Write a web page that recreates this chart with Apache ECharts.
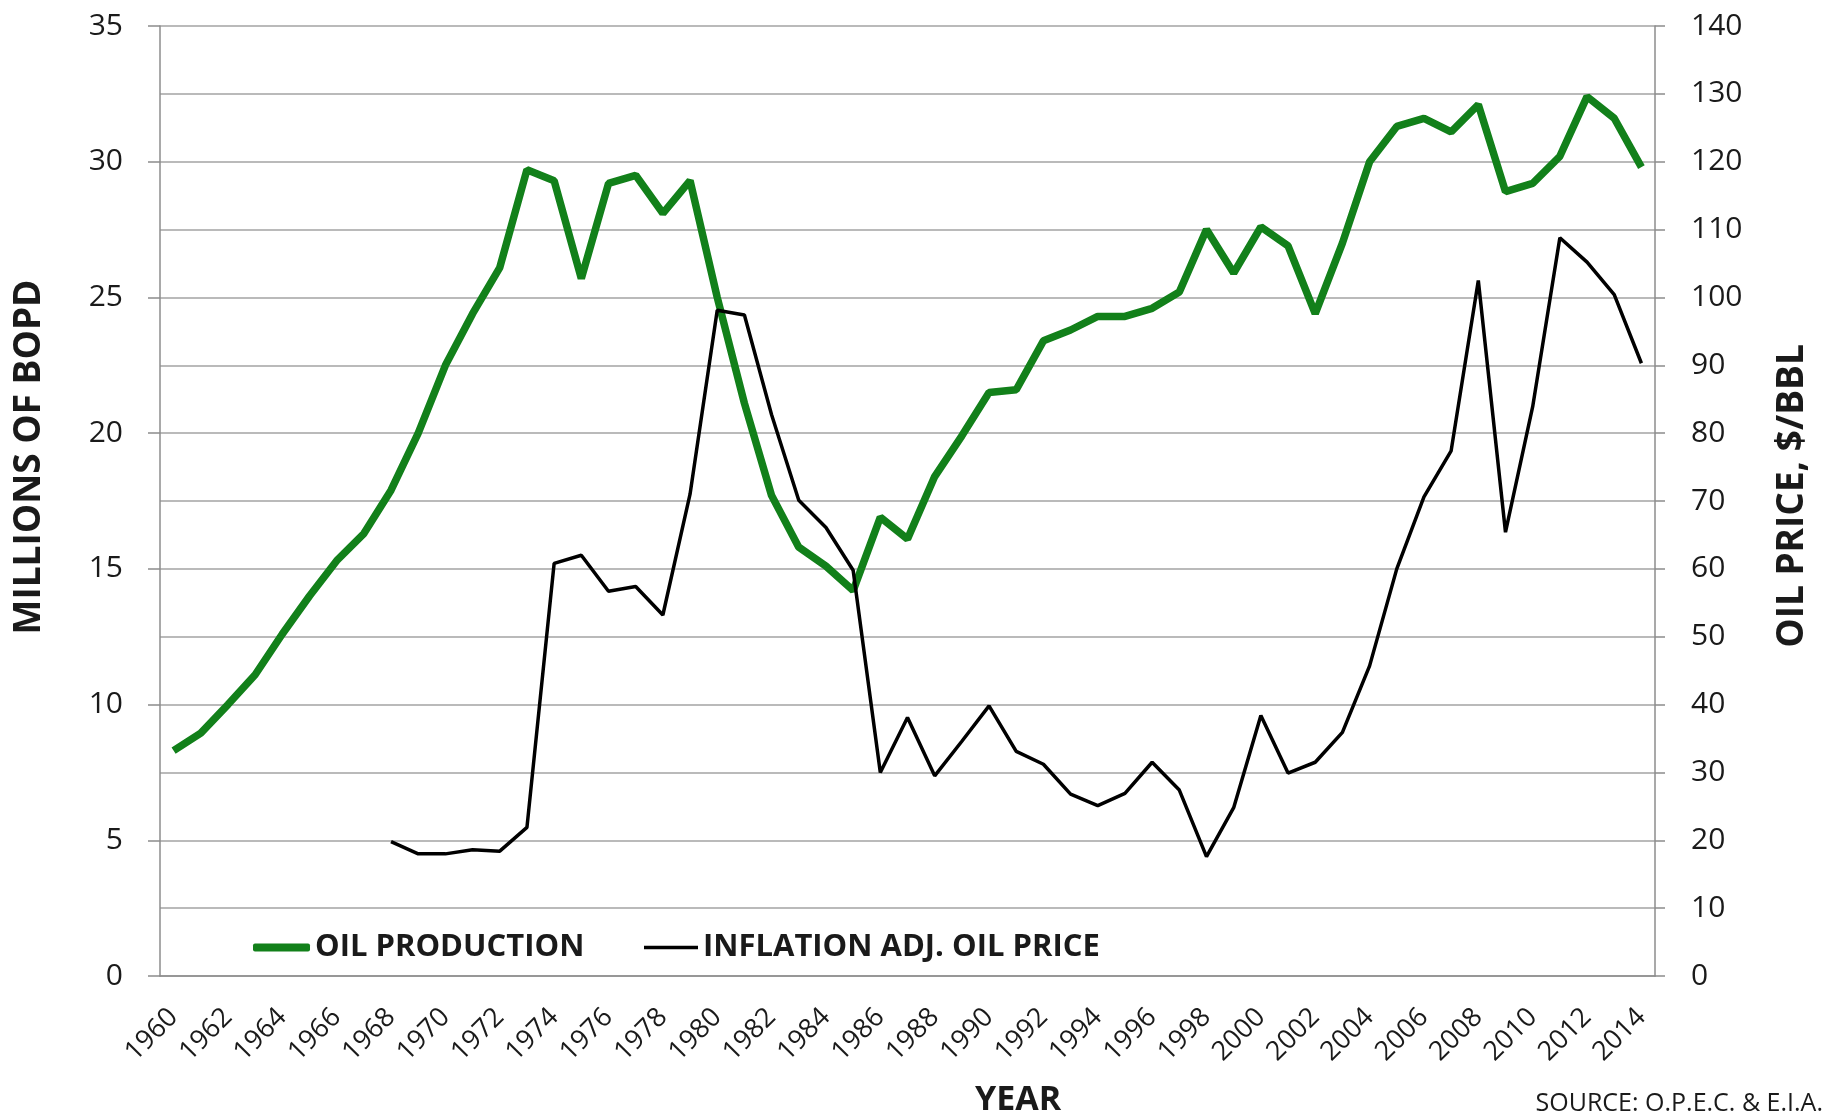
<!DOCTYPE html>
<html>
<head>
<meta charset="utf-8">
<script src="https://cdn.jsdelivr.net/npm/echarts@6/dist/echarts.min.js"></script>
<style>
html, body { margin: 0; padding: 0; background: #fff; }
#main { width: 1830px; height: 1119px; }
</style>
</head>
<body>
<div id="main"></div>
<script>
const years = [
	'1960', '1961', '1962', '1963', '1964', '1965', '1966', '1967', '1968', '1969',
	'1970', '1971', '1972', '1973', '1974', '1975', '1976', '1977', '1978', '1979',
	'1980', '1981', '1982', '1983', '1984', '1985', '1986', '1987', '1988', '1989',
	'1990', '1991', '1992', '1993', '1994', '1995', '1996', '1997', '1998', '1999',
	'2000', '2001', '2002', '2003', '2004', '2005', '2006', '2007', '2008', '2009',
	'2010', '2011', '2012', '2013', '2014'
];

// millions of barrels per day (left axis)
const production = [
	8.3, 8.95, 10.0, 11.1, 12.6, 14.0, 15.3, 16.3, 17.9, 20.0,
	22.5, 24.4, 26.1, 29.7, 29.3, 25.7, 29.2, 29.5, 28.1, 29.3,
	25.0, 21.1, 17.7, 15.8, 15.1, 14.2, 16.9, 16.1, 18.4, 19.9,
	21.5, 21.6, 23.4, 23.8, 24.3, 24.3, 24.6, 25.2, 27.5, 25.9,
	27.6, 26.9, 24.4, 27.0, 30.0, 31.3, 31.6, 31.1, 32.1, 28.9,
	29.2, 30.2, 32.4, 31.6, 29.8
];

// inflation adjusted $/bbl (right axis), no data before 1968
const price = [
	null, null, null, null, null, null, null, null, 19.8, 18.0,
	18.0, 18.6, 18.4, 21.9, 60.8, 62.0, 56.7, 57.4, 53.2, 71.0,
	98.1, 97.4, 82.7, 70.1, 66.1, 59.8, 30.0, 38.1, 29.5, 34.6,
	39.8, 33.1, 31.2, 26.8, 25.1, 26.9, 31.5, 27.4, 17.6, 24.8,
	38.4, 29.9, 31.5, 35.9, 45.7, 60.0, 70.6, 77.4, 102.5, 65.4,
	83.9, 108.8, 105.2, 100.4, 90.3
];

const chartDom = document.getElementById('main');
const myChart = echarts.init(chartDom);

const FONT = '"Open Sans", "Liberation Sans", sans-serif';
const GREEN = '#12801a';
const GRID_GRAY = '#a3a3a3';
const AXIS_GRAY = '#8c8c8c';
const TEXT = '#1a1a1a';

let option = {
	animation: false,
	backgroundColor: '#fff',
	grid: {
		left: 160,
		right: 175,
		top: 26,
		bottom: 143
	},
	legend: [{
			data: ['OIL PRODUCTION'],
			left: 253,
			top: 932,
			padding: 0,
			selectedMode: false,
			icon: 'roundRect',
			itemWidth: 57,
			itemHeight: 8,
			textStyle: {
				fontFamily: FONT,
				fontWeight: 'bold',
				fontSize: 31,
				color: TEXT
			}
		},
		{
			data: ['INFLATION ADJ. OIL PRICE'],
			left: 644,
			top: 932,
			padding: 0,
			selectedMode: false,
			icon: 'rect',
			itemWidth: 54,
			itemHeight: 3.5,
			textStyle: {
				fontFamily: FONT,
				fontWeight: 'bold',
				fontSize: 31,
				color: TEXT
			}
		}
	],
	xAxis: {
		type: 'category',
		data: years,
		boundaryGap: true,
		axisLine: {
			lineStyle: { color: AXIS_GRAY, width: 1.5 }
		},
		axisTick: {
			interval: 1,
			length: 12,
			lineStyle: { color: AXIS_GRAY, width: 1.5 }
		},
		axisLabel: {
			interval: 1,
			rotate: 45,
			margin: 37,
			fontFamily: FONT,
			fontSize: 27,
			color: TEXT
		},
		splitLine: { show: false }
	},
	yAxis: [{
			type: 'value',
			min: 0,
			max: 35,
			interval: 5,
			position: 'left',
			axisLine: {
				show: true,
				lineStyle: { color: AXIS_GRAY, width: 1.5 }
			},
			axisTick: {
				show: true,
				length: 12,
				lineStyle: { color: AXIS_GRAY, width: 1.5 }
			},
			axisLabel: {
				margin: 37,
				fontFamily: FONT,
				fontSize: 30,
				color: TEXT
			},
			splitLine: { show: false }
		},
		{
			type: 'value',
			min: 0,
			max: 140,
			interval: 10,
			position: 'right',
			axisLine: {
				show: true,
				lineStyle: { color: AXIS_GRAY, width: 1.5 }
			},
			axisTick: {
				show: true,
				length: 10,
				lineStyle: { color: AXIS_GRAY, width: 1.5 }
			},
			axisLabel: {
				margin: 36,
				fontFamily: FONT,
				fontSize: 30,
				color: TEXT
			},
			splitLine: {
				show: true,
				lineStyle: { color: GRID_GRAY, width: 1.5 }
			}
		}
	],
	graphic: [{
			type: 'text',
			x: 29,
			y: 457,
			rotation: Math.PI / 2,
			style: {
				text: 'MILLIONS OF BOPD',
				fill: TEXT,
				font: 'bold 37px ' + FONT,
				align: 'center',
				verticalAlign: 'middle',
				textAlign: 'center',
				textVerticalAlign: 'middle'
			}
		},
		{
			type: 'text',
			x: 1792,
			y: 496,
			rotation: Math.PI / 2,
			style: {
				text: 'OIL PRICE, $/BBL',
				fill: TEXT,
				font: 'bold 37px ' + FONT,
				align: 'center',
				verticalAlign: 'middle',
				textAlign: 'center',
				textVerticalAlign: 'middle'
			}
		},
		{
			type: 'text',
			x: 1018,
			y: 1100,
			style: {
				text: 'YEAR',
				fill: TEXT,
				font: 'bold 34px ' + FONT,
				align: 'center',
				verticalAlign: 'middle',
				textAlign: 'center',
				textVerticalAlign: 'middle'
			}
		},
		{
			type: 'text',
			x: 1823,
			y: 1104,
			style: {
				text: 'SOURCE: O.P.E.C. & E.I.A.',
				fill: TEXT,
				font: '25px ' + FONT,
				align: 'right',
				verticalAlign: 'middle',
				textAlign: 'right',
				textVerticalAlign: 'middle'
			}
		}
	],
	series: [{
			name: 'OIL PRODUCTION',
			type: 'line',
			yAxisIndex: 0,
			data: production,
			symbol: 'none',
			smooth: false,
			itemStyle: { color: GREEN },
			lineStyle: { color: GREEN, width: 7.5 }
		},
		{
			name: 'INFLATION ADJ. OIL PRICE',
			type: 'line',
			yAxisIndex: 1,
			data: price,
			symbol: 'none',
			smooth: false,
			itemStyle: { color: '#000' },
			lineStyle: { color: '#000', width: 3.5 }
		}
	]
};

myChart.setOption(option);
</script>
</body>
</html>
